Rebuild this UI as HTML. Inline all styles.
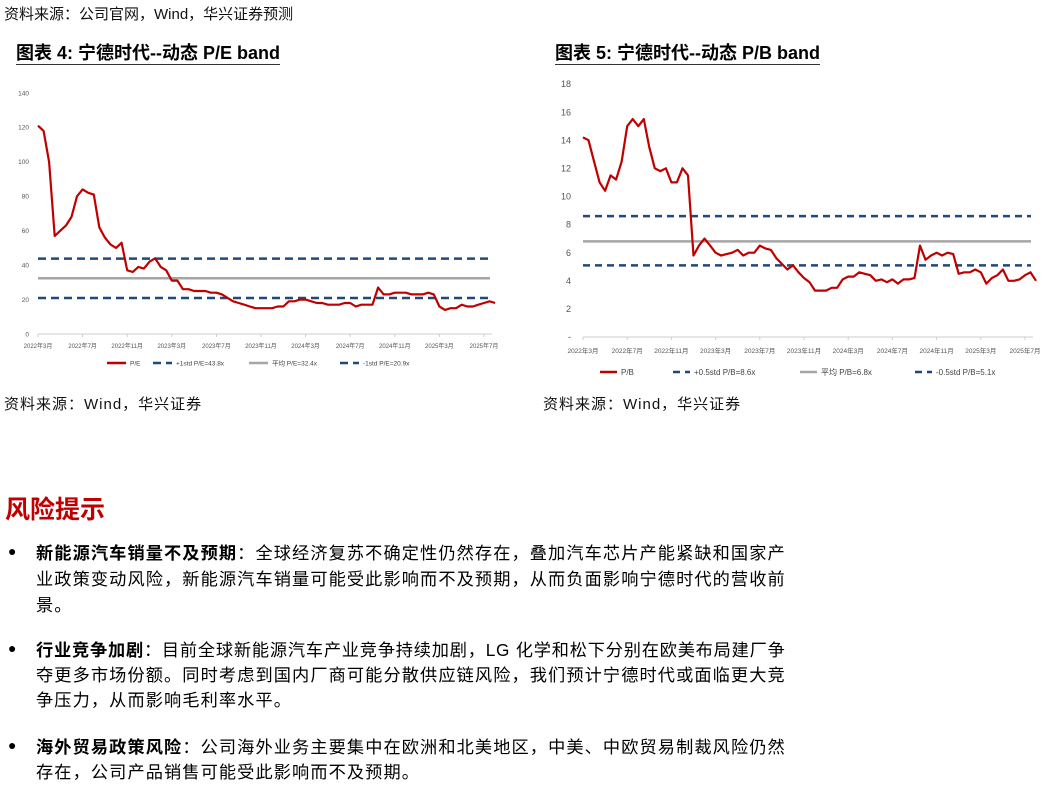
<!DOCTYPE html>
<html><head><meta charset="utf-8">
<style>
body{margin:0;width:1048px;height:785px;background:#fff;position:relative;overflow:hidden;font-family:"Liberation Sans","Noto Sans CJK SC",sans-serif;color:#000}
.t{position:absolute;white-space:nowrap}
.src{font-size:15px;color:#111}
.ttl{font-size:18px;font-weight:bold;border-bottom:1.5px solid #333;padding-bottom:1px;line-height:20px}
.ln{position:absolute;left:36px;font-size:17.2px;letter-spacing:1.1px;white-space:nowrap;line-height:20px}
.bul{position:absolute;left:8px;font-size:14px}
svg{position:absolute;left:0;top:0}
</style></head><body>
<div class="t src" style="left:4px;top:3px">资料来源：公司官网，Wind，华兴证券预测</div>
<div class="t ttl" style="left:16px;top:43px">图表 4: 宁德时代--动态 P/E band</div>
<div class="t ttl" style="left:555px;top:43px">图表 5: 宁德时代--动态 P/B band</div>
<div class="t src" style="left:4px;top:393px;letter-spacing:1px">资料来源：Wind，华兴证券</div>
<div class="t src" style="left:543px;top:393px;letter-spacing:1px">资料来源：Wind，华兴证券</div>
<div class="t" style="left:5px;top:490px;font-size:25px;font-weight:bold;color:#c00000">风险提示</div>

<div>
<div class="bul" style="top:543px">●</div>
<div class="ln" style="top:543px"><b>新能源汽车销量不及预期</b>：全球经济复苏不确定性仍然存在，叠加汽车芯片产能紧缺和国家产</div>
<div class="ln" style="top:569px">业政策变动风险，新能源汽车销量可能受此影响而不及预期，从而负面影响宁德时代的营收前</div>
<div class="ln" style="top:595px">景。</div>
</div>
<div>
<div class="bul" style="top:640px">●</div>
<div class="ln" style="top:640px;letter-spacing:0.8px"><b>行业竞争加剧</b>：目前全球新能源汽车产业竞争持续加剧，LG 化学和松下分别在欧美布局建厂争</div>
<div class="ln" style="top:665px">夺更多市场份额。同时考虑到国内厂商可能分散供应链风险，我们预计宁德时代或面临更大竞</div>
<div class="ln" style="top:690px">争压力，从而影响毛利率水平。</div>
</div>
<div>
<div class="bul" style="top:737px">●</div>
<div class="ln" style="top:737px"><b>海外贸易政策风险</b>：公司海外业务主要集中在欧洲和北美地区，中美、中欧贸易制裁风险仍然</div>
<div class="ln" style="top:762px">存在，公司产品销售可能受此影响而不及预期。</div>
</div>

<svg id="chart" width="1048" height="785" xmlns="http://www.w3.org/2000/svg"></svg>
<script>
const xLabels = ["2022年3月","2022年7月","2022年11月","2023年3月","2023年7月","2023年11月","2024年3月","2024年7月","2024年11月","2025年3月","2025年7月"];
// values at half-month steps starting Mar 2022
const peValues = [121,118,100,57,60,63,68,80,84,82,81,62,56,52,50,53,37,36,39,38,42,44,39,37,31,31,26,26,25,25,25,24,24,23,21,19,18,17,16,15,15,15,15,16,16,19,19,20,20,19,18,18,17,17,17,18,18,16,17,17,17,27,23,23,24,24,24,23,23,23,24,23,16,14,15,15,17,16,16,17,18,19,18];
const pbValues = [14.2,14,12.5,11,10.4,11.5,11.2,12.5,15,15.5,15,15.5,13.5,12,11.8,12,11,11,12,11.5,5.8,6.5,7,6.5,6,5.8,5.9,6,6.2,5.8,6,6,6.5,6.3,6.2,5.6,5.2,4.8,5.1,4.6,4.2,3.9,3.3,3.3,3.3,3.5,3.5,4.1,4.3,4.3,4.6,4.5,4.4,4.0,4.1,3.9,4.1,3.8,4.1,4.1,4.2,6.5,5.5,5.8,6,5.8,6,5.9,4.5,4.6,4.6,4.8,4.6,3.8,4.2,4.4,4.8,4.0,4.0,4.1,4.4,4.6,4.0];
const peTicks = [0,20,40,60,80,100,120,140];
const pbTicks = [0,2,4,6,8,10,12,14,16,18];
const peBands = [43.8,32.4,20.9];
const pbBands = [8.6,6.8,5.1];
const peLegend = ["P/E","+1std P/E=43.8x","平均 P/E=32.4x","-1std P/E=20.9x"];
const pbLegend = ["P/B","+0.5std P/B=8.6x","平均 P/B=6.8x","-0.5std P/B=5.1x"];

const svg=document.getElementById('chart');
const NS='http://www.w3.org/2000/svg';
function mk(tag,attrs,parent){const e=document.createElementNS(NS,tag);for(const k in attrs)e.setAttribute(k,attrs[k]);(parent||svg).appendChild(e);return e;}

function drawChart(cfg){
  const g=mk('g',{});
  
  
  const X=m=>cfg.x0+(cfg.x1-cfg.x0)*m/40;
  const Y=v=>cfg.y0+(cfg.yTop-cfg.y0)*v/cfg.yMax;
  cfg.ticks.forEach((t,i)=>{
    const tx=mk('text',{x:cfg.yLabX,y:Y(t)+cfg.yFs*0.35,'text-anchor':'end','font-size':cfg.yFs,fill:'#555'},g);
    tx.textContent=(t===0&&cfg.zeroDash)?'-':t;
    
    
  });
  const ax=mk('line',{x1:cfg.x0,x2:cfg.x1+8,y1:cfg.y0,y2:cfg.y0,stroke:'#ccc','stroke-width':1},g);
  
  
  xLabels.forEach((l,i)=>{
    const m=i*4;
    mk('line',{x1:X(m),x2:X(m),y1:cfg.y0,y2:cfg.y0+3,stroke:'#ccc'},g);
    const tx=mk('text',{x:X(m),y:cfg.xLabY,'text-anchor':'middle','font-size':cfg.xFs,fill:'#555'},g);
    tx.textContent=l;
    
    
  });
  const bandNames=['upper-band-line','mean-line','lower-band-line'];
  cfg.bands.forEach((b,i)=>{
    const isMean=i===1;
    const ln=mk('line',{x1:cfg.x0,x2:cfg.x1+6,y1:Y(b),y2:Y(b),stroke:isMean?'#a6a6a6':'#1f497d','stroke-width':2.5,'stroke-dasharray':isMean?'':cfg.dash},g);
    
    
  });
  const pts=cfg.values.map((v,i)=>X(i*0.5).toFixed(1)+','+Y(v).toFixed(1)).join(' ');
  const pl=mk('polyline',{points:pts,fill:'none',stroke:'#c00000','stroke-width':2.2,'stroke-linejoin':'round'},g);
  
  
  const L=cfg.leg;
  const styles=[{c:'#c00000',d:''},{c:'#1f497d',d:cfg.dash},{c:'#a6a6a6',d:''},{c:'#1f497d',d:cfg.dash}];
  cfg.legend.forEach((t,i)=>{
    const lg=mk('g',{},g);
    
    
    mk('line',{x1:L.xs[i],x2:L.xs[i]+L.w,y1:L.y,y2:L.y,stroke:styles[i].c,'stroke-width':2.5,'stroke-dasharray':styles[i].d},lg);
    const tx=mk('text',{x:L.xs[i]+L.w+4,y:L.y+L.fs*0.35,'font-size':L.fs,fill:'#444'},lg);
    tx.textContent=t;
  });
}
drawChart({name:'pe-band-chart',seriesName:'pe-line',x0:38,x1:484,y0:334,yTop:93,yMax:140,ticks:peTicks,yLabX:29,yFs:6.5,xLabY:348,xFs:6,values:peValues,bands:peBands,dash:'8,5',zeroDash:false,legend:peLegend,
  leg:{y:363,fs:6.5,w:19,xs:[107,153,249,340]}});
drawChart({name:'pb-band-chart',seriesName:'pb-line',x0:583,x1:1025,y0:337,yTop:84,yMax:18,ticks:pbTicks,yLabX:571,yFs:9,xLabY:353,xFs:6.5,values:pbValues,bands:pbBands,dash:'7,5',zeroDash:true,legend:pbLegend,
  leg:{y:372,fs:8,w:17,xs:[600,673,800,915]}});
</script>
</body></html>
